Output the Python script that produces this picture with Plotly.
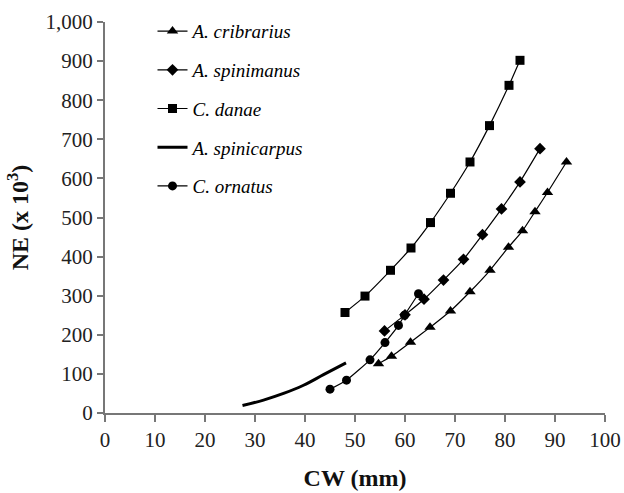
import plotly.graph_objects as go

# A. cribrarius (triangles)
cri_x = [54.7, 57.3, 61.1, 65.0, 69.1, 73.0, 77.0, 80.7, 83.5, 86.0, 88.5, 92.3]
cri_y = [126, 145, 181, 219, 261, 310, 365, 424, 466, 515, 564, 642]
# A. spinimanus (diamonds)
spm_x = [55.9, 60.0, 63.8, 67.7, 71.7, 75.5, 79.3, 83.0, 87.0]
spm_y = [210, 251, 291, 340, 393, 456, 522, 591, 676]
# C. danae (squares)
dan_x = [48.0, 52.0, 57.1, 61.2, 65.1, 69.1, 73.0, 76.9, 80.8, 83.0]
dan_y = [257, 299, 365, 422, 487, 562, 642, 735, 838, 902]
# A. spinicarpus (curve only)
spc_x = [27.5, 31.7, 35.7, 39.7, 43.7, 48.2]
spc_y = [19, 33, 50, 71, 98, 128]
# C. ornatus (circles)
orn_x = [45.0, 48.3, 53.0, 56.0, 58.7, 59.9, 62.7]
orn_y = [61, 84, 136, 180, 224, 250, 305]

names = ["A. cribrarius", "A. spinimanus", "C. danae", "A. spinicarpus", "C. ornatus"]

fig = go.Figure()
series = [
    (cri_x, cri_y, "triangle-up", 10),
    (spm_x, spm_y, "diamond", 9),
    (dan_x, dan_y, "square", 9),
    (spc_x, spc_y, None, 0),
    (orn_x, orn_y, "circle", 9),
]
for i, (xs, ys, sym, sz) in enumerate(series):
    if sym is None:
        fig.add_trace(go.Scatter(x=xs, y=ys, mode="lines", name=names[i],
                                 legendgroup=str(i),
                                 line=dict(color="black", width=3, shape="spline")))
    else:
        fig.add_trace(go.Scatter(x=xs, y=ys, mode="lines+markers", name=names[i],
                                 legendgroup=str(i),
                                 line=dict(color="black", width=1.2, shape="spline", smoothing=0.5),
                                 marker=dict(symbol=sym, size=sz, color="black")))

axis_font = dict(family="Liberation Serif", size=21, color="#222")
fig.update_layout(
    width=624, height=493,
    margin=dict(l=105, r=19, t=19, b=80),
    paper_bgcolor="white", plot_bgcolor="white",
    font=dict(family="Liberation Serif", color="black"),
    showlegend=True,
    legend=dict(x=0.095, y=1.025, xanchor="left", yanchor="top",
                bgcolor="rgba(0,0,0,0)", tracegroupgap=11,
                font=dict(family="Liberation Serif", size=19, style="italic"),
                itemwidth=30),
    xaxis=dict(range=[0, 100], dtick=10, tick0=0, showgrid=False, zeroline=False,
               showline=True, linecolor="#777", linewidth=2, automargin=False,
               ticks="outside", ticklen=7, tickcolor="#777", tickwidth=2,
               tickfont=axis_font,
               title=dict(text="<b>CW (mm)</b>", standoff=18,
                          font=dict(family="Liberation Serif", size=24, color="#111"))),
    yaxis=dict(range=[0, 1000], dtick=100, tick0=0, showgrid=False, zeroline=False,
               showline=True, linecolor="#777", linewidth=2, automargin=False,
               ticks="outside", ticklen=6, tickcolor="#777", tickwidth=2,
               tickformat=",d", tickfont=axis_font,
               title=dict(text="<b>NE (x 10<sup>3</sup>)</b>", standoff=10,
                          font=dict(family="Liberation Serif", size=24, color="#111"))),
)

fig.write_html("out.html")
